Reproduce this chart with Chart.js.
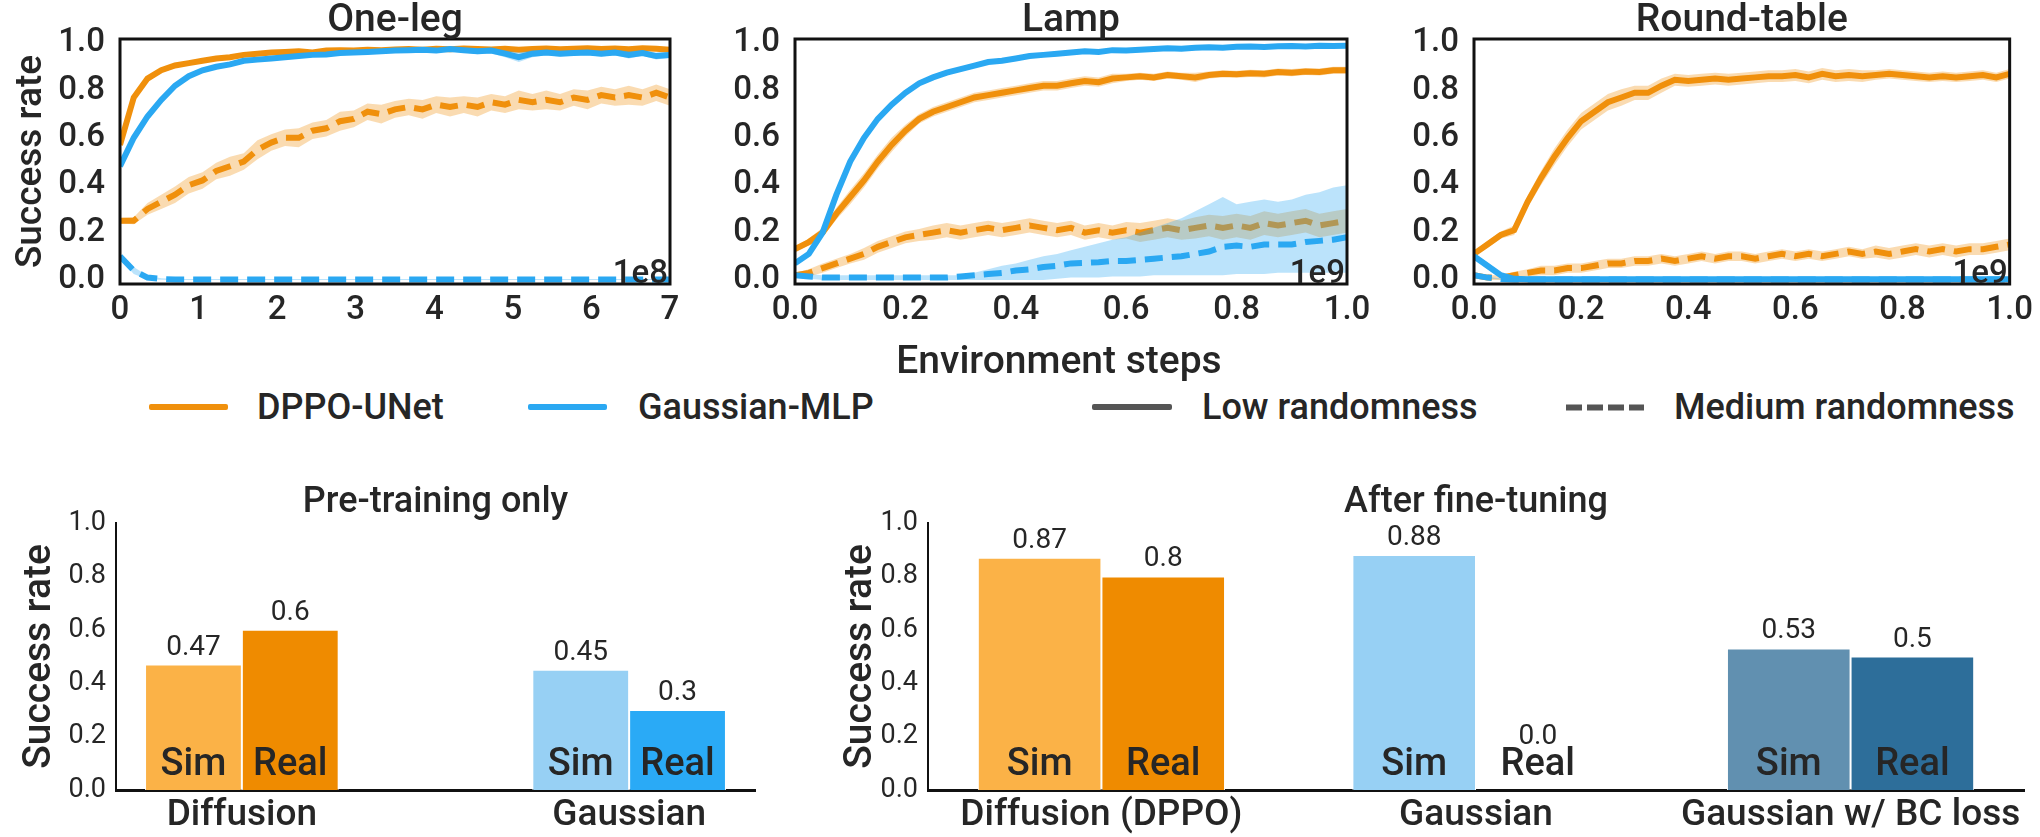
<!DOCTYPE html>
<html><head><meta charset="utf-8">
<script src="https://cdn.jsdelivr.net/npm/chart.js@4.4.1/dist/chart.umd.min.js"></script>
<style>
html,body{margin:0;padding:0;background:#fff;}
#wrap{position:relative;width:2040px;height:837px;overflow:hidden;font-family:Roboto,sans-serif;color:#262626;background:#fff;}
canvas{position:absolute;}
.txt{position:absolute;white-space:nowrap;line-height:1;}
.lg{position:absolute;height:6px;border-radius:2px;}
</style></head><body><div id="wrap">
<canvas id="c1" width="700" height="340" style="left:0px;top:0px"></canvas>
<canvas id="c2" width="680" height="340" style="left:700px;top:0px"></canvas>
<canvas id="c3" width="660" height="340" style="left:1380px;top:0px"></canvas>
<canvas id="c4" width="860" height="367" style="left:0px;top:470px"></canvas>
<canvas id="c5" width="1210" height="367" style="left:830px;top:470px"></canvas>
<div class="txt" style="left:759px;top:341px;width:600px;text-align:center;font-size:39px;font-weight:500;">Environment steps</div>
<div class="lg" style="left:149px;top:404px;width:79px;background:#F0900C"></div>
<div class="txt" style="left:257px;top:389px;font-size:36px;font-weight:500;">DPPO-UNet</div>
<div class="lg" style="left:528px;top:404px;width:79px;background:#2AA8F2"></div>
<div class="txt" style="left:638px;top:389px;font-size:36px;font-weight:500;">Gaussian-MLP</div>
<div class="lg" style="left:1092px;top:404px;width:80px;background:#555"></div>
<div class="txt" style="left:1202px;top:389px;font-size:36px;font-weight:500;">Low randomness</div>
<svg style="position:absolute;left:1566px;top:402px" width="78" height="11"><line x1="0" y1="5.5" x2="78" y2="5.5" stroke="#555" stroke-width="6" stroke-dasharray="16 5"/></svg>
<div class="txt" style="left:1674px;top:389px;font-size:36px;font-weight:500;">Medium randomness</div>
</div>
<script>
// ---------------- DATA ----------------
const stepsOneLeg = [0,0.175,0.35,0.525,0.7,0.875,1.05,1.225,1.4,1.575,
  1.75,1.925,2.1,2.275,2.45,2.625,2.8,2.975,3.15,3.325,
  3.5,3.675,3.85,4.025,4.2,4.375,4.55,4.725,4.9,5.075,
  5.25,5.425,5.6,5.775,5.95,6.125,6.3,6.475,6.65,6.825,
  7]; // x 1e8
const stepsLong = [0,0.025,0.05,0.075,0.1,0.125,0.15,0.175,0.2,0.225,
  0.25,0.275,0.3,0.325,0.35,0.375,0.4,0.425,0.45,0.475,
  0.5,0.525,0.55,0.575,0.6,0.625,0.65,0.675,0.7,0.725,
  0.75,0.775,0.8,0.825,0.85,0.875,0.9,0.925,0.95,0.975,
  1]; // x 1e9

const oneLegXTicks = [0,1,2,3,4,5,6,7];
const longXTicks = [0,0.2,0.4,0.6,0.8,1.0];
const yTicks = [0,0.2,0.4,0.6,0.8,1.0];

// One-leg
const oneLegDppoLow = [0.57,0.77,0.85,0.885,0.905,0.915,0.925,0.935,0.94,0.95,
  0.955,0.96,0.962,0.965,0.96,0.968,0.97,0.968,0.972,0.97,
  0.973,0.975,0.972,0.976,0.974,0.977,0.975,0.973,0.976,0.972,
  0.975,0.977,0.974,0.976,0.978,0.975,0.977,0.974,0.978,0.976,
  0.972];
const oneLegDppoLowSd = [0.012,0.015,0.012,0.01,0.01,0.008,0.008,0.008,0.008,0.007,
  0.007,0.006,0.006,0.006,0.007,0.006,0.006,0.006,0.006,0.006,
  0.006,0.006,0.006,0.006,0.006,0.006,0.006,0.006,0.006,0.006,
  0.006,0.006,0.006,0.006,0.006,0.006,0.006,0.006,0.006,0.006,
  0.008];
const oneLegGaussLow = [0.48,0.6,0.69,0.76,0.82,0.86,0.885,0.9,0.91,0.925,
  0.93,0.935,0.94,0.945,0.95,0.952,0.958,0.96,0.962,0.965,
  0.968,0.97,0.972,0.968,0.975,0.97,0.965,0.968,0.955,0.94,
  0.955,0.96,0.955,0.958,0.96,0.955,0.96,0.95,0.958,0.945,
  0.95];
const oneLegGaussLowSd = [0.01,0.012,0.012,0.01,0.01,0.01,0.008,0.008,0.008,0.008,
  0.008,0.007,0.007,0.007,0.007,0.007,0.007,0.007,0.007,0.007,
  0.007,0.008,0.008,0.01,0.008,0.01,0.012,0.012,0.015,0.02,
  0.015,0.012,0.012,0.012,0.012,0.012,0.012,0.015,0.012,0.015,
  0.012];
const oneLegDppoMed = [0.25,0.25,0.3,0.33,0.36,0.4,0.42,0.46,0.48,0.5,
  0.55,0.58,0.6,0.6,0.63,0.64,0.67,0.68,0.71,0.7,
  0.72,0.73,0.72,0.74,0.73,0.74,0.73,0.75,0.74,0.76,
  0.75,0.76,0.75,0.77,0.76,0.78,0.77,0.78,0.77,0.79,
  0.77];
const oneLegDppoMedSd = [0.012,0.015,0.025,0.03,0.035,0.035,0.035,0.035,0.04,0.035,
  0.04,0.035,0.035,0.04,0.035,0.035,0.04,0.035,0.035,0.04,
  0.035,0.035,0.04,0.035,0.04,0.035,0.04,0.035,0.035,0.04,
  0.035,0.04,0.035,0.035,0.04,0.035,0.035,0.04,0.035,0.035,
  0.035];
const oneLegGaussMed = [0.1,0.04,0.01,0.004,0.002,0.002,0.002,0.002,0.002,0.002,
  0.002,0.002,0.002,0.002,0.002,0.002,0.002,0.002,0.002,0.002,
  0.002,0.002,0.002,0.002,0.002,0.002,0.002,0.002,0.002,0.002,
  0.002,0.002,0.002,0.002,0.002,0.002,0.002,0.002,0.002,0.002,
  0.002];
const oneLegGaussMedSd = [0.01,0.015,0.008,0.003,0.002,0.002,0.002,0.002,0.002,0.002,
  0.002,0.002,0.002,0.002,0.002,0.002,0.002,0.002,0.002,0.002,
  0.002,0.002,0.002,0.002,0.002,0.002,0.002,0.002,0.002,0.002,
  0.002,0.002,0.002,0.002,0.002,0.002,0.002,0.002,0.002,0.002,
  0.002];

// Lamp
const lampDppoLow = [0.13,0.16,0.2,0.28,0.35,0.42,0.5,0.57,0.63,0.68,
  0.71,0.73,0.75,0.77,0.78,0.79,0.8,0.81,0.82,0.82,
  0.83,0.84,0.835,0.85,0.855,0.86,0.855,0.865,0.86,0.855,
  0.865,0.87,0.868,0.872,0.87,0.878,0.875,0.88,0.878,0.885,
  0.885];
const lampDppoLowSd = [0.01,0.015,0.02,0.025,0.03,0.03,0.03,0.03,0.025,0.02,
  0.02,0.02,0.02,0.02,0.02,0.02,0.02,0.02,0.02,0.02,
  0.02,0.02,0.02,0.02,0.015,0.015,0.015,0.015,0.015,0.02,
  0.015,0.015,0.015,0.015,0.015,0.015,0.015,0.015,0.015,0.015,
  0.015];
const lampGaussLow = [0.07,0.11,0.2,0.36,0.5,0.6,0.68,0.74,0.79,0.83,
  0.855,0.875,0.89,0.905,0.92,0.925,0.935,0.945,0.95,0.955,
  0.96,0.965,0.962,0.97,0.968,0.972,0.975,0.978,0.976,0.98,
  0.982,0.98,0.984,0.985,0.983,0.986,0.987,0.985,0.988,0.987,
  0.988];
const lampGaussLowSd = [0.008,0.01,0.012,0.015,0.015,0.015,0.012,0.012,0.01,0.01,
  0.008,0.008,0.008,0.008,0.008,0.008,0.008,0.008,0.008,0.008,
  0.006,0.006,0.006,0.006,0.006,0.006,0.006,0.006,0.006,0.006,
  0.005,0.005,0.005,0.005,0.005,0.005,0.005,0.005,0.005,0.005,
  0.005];
const lampDppoMed = [0.02,0.03,0.05,0.07,0.09,0.11,0.14,0.16,0.18,0.19,
  0.2,0.21,0.2,0.21,0.22,0.21,0.22,0.23,0.22,0.21,
  0.22,0.2,0.21,0.2,0.21,0.2,0.21,0.22,0.21,0.22,
  0.23,0.22,0.23,0.22,0.24,0.23,0.24,0.25,0.23,0.24,
  0.25];
const lampDppoMedSd = [0.01,0.015,0.02,0.02,0.02,0.025,0.025,0.025,0.025,0.025,
  0.03,0.03,0.03,0.03,0.03,0.03,0.03,0.03,0.03,0.03,
  0.03,0.03,0.03,0.03,0.035,0.04,0.04,0.04,0.04,0.045,
  0.045,0.05,0.05,0.05,0.05,0.05,0.05,0.05,0.05,0.05,
  0.05];
const lampGaussMed = [0.02,0.015,0.01,0.01,0.01,0.01,0.01,0.01,0.01,0.01,
  0.01,0.01,0.015,0.02,0.025,0.03,0.04,0.045,0.055,0.06,
  0.07,0.072,0.075,0.08,0.08,0.085,0.09,0.095,0.1,0.11,
  0.12,0.14,0.145,0.14,0.15,0.15,0.15,0.16,0.165,0.17,
  0.18];
const lampGaussMedLo = [0.01,0.005,0,0,0,0,0,0,0,0,
  0,0,0,0,0,0,0,0,0,0.005,
  0.01,0.01,0.01,0.015,0.015,0.015,0.02,0.02,0.02,0.02,
  0.02,0.02,0.025,0.025,0.025,0.03,0.03,0.03,0.03,0.03,
  0.03];
const lampGaussMedHi = [0.03,0.025,0.02,0.02,0.02,0.02,0.02,0.02,0.02,0.02,
  0.02,0.02,0.02,0.03,0.045,0.06,0.07,0.085,0.1,0.11,
  0.125,0.14,0.155,0.17,0.18,0.2,0.22,0.24,0.26,0.29,
  0.32,0.35,0.32,0.33,0.34,0.33,0.34,0.36,0.37,0.39,
  0.4];

// Round-table
const rtDppoLow = [0.11,0.15,0.19,0.21,0.33,0.43,0.52,0.6,0.67,0.71,
  0.75,0.77,0.79,0.79,0.82,0.845,0.84,0.845,0.85,0.845,
  0.85,0.855,0.86,0.86,0.865,0.855,0.87,0.86,0.865,0.86,
  0.865,0.87,0.865,0.86,0.855,0.86,0.855,0.86,0.865,0.855,
  0.87];
const rtDppoLowSd = [0.01,0.015,0.015,0.02,0.025,0.03,0.035,0.035,0.035,0.035,
  0.035,0.035,0.03,0.03,0.03,0.025,0.025,0.025,0.025,0.025,
  0.025,0.025,0.025,0.025,0.025,0.025,0.025,0.025,0.025,0.025,
  0.02,0.02,0.02,0.02,0.02,0.02,0.02,0.02,0.02,0.02,
  0.02];
const rtDppoMed = [0.02,0.01,0.01,0.02,0.03,0.04,0.04,0.05,0.05,0.06,
  0.07,0.07,0.08,0.08,0.09,0.08,0.09,0.1,0.09,0.1,
  0.1,0.09,0.1,0.11,0.1,0.11,0.1,0.11,0.12,0.11,
  0.12,0.11,0.12,0.13,0.12,0.13,0.12,0.13,0.13,0.14,
  0.15];
const rtDppoMedSd = [0.01,0.01,0.01,0.015,0.015,0.02,0.02,0.02,0.02,0.02,
  0.02,0.02,0.02,0.02,0.02,0.02,0.02,0.02,0.02,0.02,
  0.02,0.02,0.02,0.02,0.02,0.02,0.02,0.02,0.02,0.02,
  0.025,0.025,0.025,0.025,0.025,0.025,0.025,0.025,0.025,0.025,
  0.025];
const rtGaussLow = [0.1,0.06,0.02,0.005,0.003,0.003,0.003,0.003,0.003,0.003,
  0.003,0.003,0.003,0.003,0.003,0.003,0.003,0.003,0.003,0.003,
  0.003,0.003,0.003,0.003,0.003,0.003,0.003,0.003,0.003,0.003,
  0.003,0.003,0.003,0.003,0.003,0.003,0.003,0.003,0.003,0.003,
  0.003];
const rtGaussLowSd = [0.01,0.015,0.01,0.003,0.002,0.002,0.002,0.002,0.002,0.002,
  0.002,0.002,0.002,0.002,0.002,0.002,0.002,0.002,0.002,0.002,
  0.002,0.002,0.002,0.002,0.002,0.002,0.002,0.002,0.002,0.002,
  0.002,0.002,0.002,0.002,0.002,0.002,0.002,0.002,0.002,0.002,
  0.002];
const rtGaussMed = [0.02,0.01,0.004,0.002,0.002,0.002,0.002,0.002,0.002,0.002,
  0.002,0.002,0.002,0.002,0.002,0.002,0.002,0.002,0.002,0.002,
  0.002,0.002,0.002,0.002,0.002,0.002,0.002,0.002,0.002,0.002,
  0.002,0.002,0.002,0.002,0.002,0.002,0.002,0.002,0.002,0.002,
  0.002];
const rtGaussMedSd = [0.005,0.004,0.002,0.001,0.001,0.001,0.001,0.001,0.001,0.001,
  0.001,0.001,0.001,0.001,0.001,0.001,0.001,0.001,0.001,0.001,
  0.001,0.001,0.001,0.001,0.001,0.001,0.001,0.001,0.001,0.001,
  0.001,0.001,0.001,0.001,0.001,0.001,0.001,0.001,0.001,0.001,
  0.001];

// Bar charts
const preCategories = ['Diffusion','Gaussian'];
const preSim = [0.47,0.45];
const preReal = [0.6,0.3];
const fineCategories = ['Diffusion (DPPO)','Gaussian','Gaussian w/ BC loss'];
const fineSim = [0.87,0.88,0.53];
const fineReal = [0.8,0.0,0.5];

// ---------------- STYLE ----------------
const TXT = '#262626';
const ORANGE = '#F0900C', BLUE = '#2AA8F2';
const ORANGE_BAND = 'rgba(240,144,12,0.32)', BLUE_BAND = 'rgba(42,168,242,0.32)';
const preSimColors = ['#FBB247','#97D0F4'];
const preRealColors = ['#EF8B00','#2AAAF6'];
const fineSimColors = ['#FBB247','#97D0F4','#6190B0'];
const fineRealColors = ['#EF8B00','#2AAAF6','#2D6E9A'];

const sub = (a,b) => a.map((v,i)=>v-b[i]);
const add = (a,b) => a.map((v,i)=>v+b[i]);

const frameTitlePlugin = {
  id:'frameTitle',
  afterDatasetsDraw(chart, args, opts){
    const {ctx, chartArea:a} = chart;
    ctx.save();
    ctx.strokeStyle = '#111'; ctx.lineWidth = 3;
    ctx.strokeRect(a.left, a.top, a.right-a.left, a.bottom-a.top);
    ctx.fillStyle = TXT; ctx.textAlign = 'center'; ctx.textBaseline = 'alphabetic';
    ctx.font = '500 39px Roboto';
    ctx.fillText(opts.title, (a.left+a.right)/2, a.top - 8);
    ctx.font = '500 33px Roboto'; ctx.textAlign = 'right';
    ctx.fillText(opts.offset, a.right - 2, a.bottom - 1);
    ctx.restore();
  }
};

const barLabelPlugin = {
  id:'barLabels',
  afterDatasetsDraw(chart, args, opts){
    const {ctx, chartArea:a} = chart;
    ctx.save();
    ctx.fillStyle = TXT; ctx.textAlign = 'center'; ctx.textBaseline = 'alphabetic';
    ctx.font = '500 36px Roboto';
    ctx.fillText(opts.title, (a.left+a.right)/2, a.top - 11);
    chart.data.datasets.forEach((ds, di) => {
      chart.getDatasetMeta(di).data.forEach((bar, i) => {
        const v = ds.data[i].y;
        ctx.font = '500 38px Roboto';
        ctx.fillText(ds.label, bar.x, a.bottom - 15);
        ctx.font = '28px Roboto';
        ctx.fillText(v === 0 ? '0.0' : String(v), bar.x, Math.min(bar.y - 10, a.bottom - 46));
      });
    });
    ctx.restore();
  }
};

function seriesDatasets(xs, mean, lo, hi, color, band, dashed, orderBase){
  const pts = arr => arr.map((y,i)=>({x: xs[i], y}));
  const none = 'rgba(0,0,0,0)';
  return [
    {data: pts(lo), borderColor: none, borderWidth: 0, pointRadius: 0, fill: false, order: orderBase},
    {data: pts(hi), borderColor: none, borderWidth: 0, pointRadius: 0, fill: '-1', backgroundColor: band, order: orderBase},
    {data: pts(mean), borderColor: color, borderWidth: 6, borderDash: dashed ? [18,9] : [], borderCapStyle: 'butt',
     pointRadius: 0, fill: false, order: orderBase - 1}
  ];
}

function topChart(id, cfg){
  const datasets = [];
  cfg.series.forEach((s,k) => datasets.push(...seriesDatasets(cfg.xs, s.mean, s.lo, s.hi, s.color, s.band, s.dashed, 100 - 10*k)));
  new Chart(document.getElementById(id), {
    type: 'line',
    data: {datasets},
    options: {
      responsive: false, animation: false, events: [],
      layout: {padding: {top: 39, right: cfg.padRight, left: 0, bottom: 0}},
      elements: {line: {tension: 0}, point: {radius: 0}},
      plugins: {legend: {display: false}, tooltip: {enabled: false}, frameTitle: {title: cfg.title, offset: cfg.offset}},
      scales: {
        x: {type: 'linear', min: cfg.xmin, max: cfg.xmax,
            grid: {display: false, drawTicks: false}, border: {display: false},
            ticks: {color: TXT, font: {size: 33, weight: '500'}, padding: 7, maxRotation: 0, autoSkip: false, callback: cfg.xfmt},
            afterBuildTicks: s => { s.ticks = cfg.xticks.map(v => ({value: v})); },
            afterFit: s => { s.height = 56; }},
        y: {type: 'linear', min: -0.017, max: 1.017,
            grid: {display: false, drawTicks: false}, border: {display: false},
            ticks: {color: TXT, font: {size: 33, weight: '500'}, padding: 15, callback: v => v.toFixed(1)},
            afterBuildTicks: s => { s.ticks = yTicks.map(v => ({value: v})); },
            afterFit: s => { s.width = cfg.yAxisW; },
            title: {display: !!cfg.ylabel, text: cfg.ylabel || '', color: TXT, font: {size: 37, weight: '500'}, padding: {top: 10, bottom: 0}}}
      }
    },
    plugins: [frameTitlePlugin]
  });
}

function barChart(id, cfg){
  const mk = (vals) => vals.map((y,i)=>({x: i, y}));
  new Chart(document.getElementById(id), {
    type: 'bar',
    data: {datasets: [
      {label: 'Sim', data: mk(cfg.sim), backgroundColor: cfg.simColors, borderColor: '#fff', borderWidth: 1,
       categoryPercentage: cfg.catPct, barPercentage: 1.0},
      {label: 'Real', data: mk(cfg.real), backgroundColor: cfg.realColors, borderColor: '#fff', borderWidth: 1,
       categoryPercentage: cfg.catPct, barPercentage: 1.0}
    ]},
    options: {
      responsive: false, animation: false, events: [],
      layout: {padding: {top: 53, right: cfg.padRight, left: 0, bottom: 0}},
      plugins: {legend: {display: false}, tooltip: {enabled: false}, barLabels: {title: cfg.title}},
      scales: {
        x: {type: 'linear', min: cfg.xmin, max: cfg.xmax, offset: false,
            grid: {display: false, drawTicks: false}, border: {display: true, color: '#111', width: 3},
            ticks: {color: TXT, font: {size: 37, weight: '500'}, padding: 4, maxRotation: 0, autoSkip: false,
                    callback: v => cfg.cats[v]},
            afterBuildTicks: s => { s.ticks = cfg.cats.map((c,i) => ({value: i})); },
            afterFit: s => { s.height = 47; }},
        y: {type: 'linear', min: 0, max: 1.0,
            grid: {display: false, drawTicks: false}, border: {display: true, color: '#111', width: 2},
            ticks: {color: TXT, font: {size: 27}, padding: 10, callback: v => v.toFixed(1)},
            afterBuildTicks: s => { s.ticks = yTicks.map(v => ({value: v})); },
            afterFit: s => { s.width = cfg.yAxisW; },
            title: {display: true, text: 'Success rate', color: TXT, font: {size: 39, weight: '500'}, padding: {top: cfg.ylabPad, bottom: 0}}}
      }
    },
    plugins: [barLabelPlugin]
  });
}

function draw(){
  Chart.defaults.font.family = 'Roboto, sans-serif';
  Chart.defaults.color = TXT;

  topChart('c1', {title: 'One-leg', offset: '1e8', xs: stepsOneLeg, xmin: 0, xmax: 7, xticks: oneLegXTicks,
    xfmt: v => String(v), yAxisW: 120, padRight: 30, ylabel: 'Success rate',
    series: [
      {mean: oneLegDppoLow, lo: sub(oneLegDppoLow, oneLegDppoLowSd), hi: add(oneLegDppoLow, oneLegDppoLowSd), color: ORANGE, band: ORANGE_BAND, dashed: false},
      {mean: oneLegDppoMed, lo: sub(oneLegDppoMed, oneLegDppoMedSd), hi: add(oneLegDppoMed, oneLegDppoMedSd), color: ORANGE, band: ORANGE_BAND, dashed: true},
      {mean: oneLegGaussLow, lo: sub(oneLegGaussLow, oneLegGaussLowSd), hi: add(oneLegGaussLow, oneLegGaussLowSd), color: BLUE, band: BLUE_BAND, dashed: false},
      {mean: oneLegGaussMed, lo: sub(oneLegGaussMed, oneLegGaussMedSd), hi: add(oneLegGaussMed, oneLegGaussMedSd), color: BLUE, band: BLUE_BAND, dashed: true}
    ]});

  topChart('c2', {title: 'Lamp', offset: '1e9', xs: stepsLong, xmin: 0, xmax: 1, xticks: longXTicks,
    xfmt: v => v.toFixed(1), yAxisW: 95, padRight: 33,
    series: [
      {mean: lampDppoLow, lo: sub(lampDppoLow, lampDppoLowSd), hi: add(lampDppoLow, lampDppoLowSd), color: ORANGE, band: ORANGE_BAND, dashed: false},
      {mean: lampDppoMed, lo: sub(lampDppoMed, lampDppoMedSd), hi: add(lampDppoMed, lampDppoMedSd), color: ORANGE, band: ORANGE_BAND, dashed: true},
      {mean: lampGaussLow, lo: sub(lampGaussLow, lampGaussLowSd), hi: add(lampGaussLow, lampGaussLowSd), color: BLUE, band: BLUE_BAND, dashed: false},
      {mean: lampGaussMed, lo: lampGaussMedLo, hi: lampGaussMedHi, color: BLUE, band: BLUE_BAND, dashed: true}
    ]});

  topChart('c3', {title: 'Round-table', offset: '1e9', xs: stepsLong, xmin: 0, xmax: 1, xticks: longXTicks,
    xfmt: v => v.toFixed(1), yAxisW: 94, padRight: 26,
    series: [
      {mean: rtDppoLow, lo: sub(rtDppoLow, rtDppoLowSd), hi: add(rtDppoLow, rtDppoLowSd), color: ORANGE, band: ORANGE_BAND, dashed: false},
      {mean: rtDppoMed, lo: sub(rtDppoMed, rtDppoMedSd), hi: add(rtDppoMed, rtDppoMedSd), color: ORANGE, band: ORANGE_BAND, dashed: true},
      {mean: rtGaussLow, lo: sub(rtGaussLow, rtGaussLowSd), hi: add(rtGaussLow, rtGaussLowSd), color: BLUE, band: BLUE_BAND, dashed: false},
      {mean: rtGaussMed, lo: sub(rtGaussMed, rtGaussMedSd), hi: add(rtGaussMed, rtGaussMedSd), color: BLUE, band: BLUE_BAND, dashed: true}
    ]});

  barChart('c4', {title: 'Pre-training only', cats: preCategories, sim: preSim, real: preReal,
    simColors: preSimColors, realColors: preRealColors, catPct: 0.5, xmin: -0.325, xmax: 1.325,
    yAxisW: 116, padRight: 105, ylabPad: 17});

  barChart('c5', {title: 'After fine-tuning', cats: fineCategories, sim: fineSim, real: fineReal,
    simColors: fineSimColors, realColors: fineRealColors, catPct: 0.66, xmin: -0.463, xmax: 2.463,
    yAxisW: 98, padRight: 16, ylabPad: 8});
}

Promise.all([document.fonts.load('32px Roboto'), document.fonts.load('500 32px Roboto')])
  .then(draw, draw);
</script>
</body></html>
